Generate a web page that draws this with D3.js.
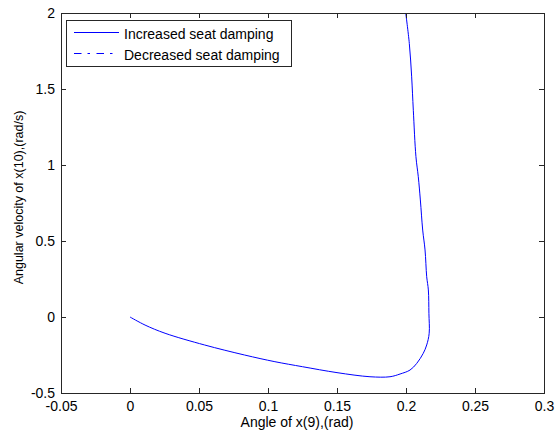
<!DOCTYPE html>
<html>
<head>
<meta charset="utf-8">
<script src="https://cdn.jsdelivr.net/npm/d3@7"></script>
<style>
  html, body { margin: 0; padding: 0; background: #fff; }
  svg text { font-family: "Liberation Sans", Arial, sans-serif; fill: #000; }
</style>
</head>
<body>
<svg id="chart" width="555" height="436"></svg>
<script>
// ---- data -----------------------------------------------------------------
var angleIncreased = [0, 0.0109, 0.0254, 0.054, 0.083, 0.105, 0.125, 0.150, 0.1739, 0.1884,
  0.1957, 0.2029, 0.2078, 0.2125, 0.215, 0.2168, 0.2166, 0.2162, 0.215, 0.2138, 0.2121, 0.2104,
  0.2089, 0.2072, 0.2053, 0.2041, 0.2024, 0.1998];
var velocityIncreased = [0, -0.053, -0.107, -0.184, -0.25, -0.294, -0.327, -0.366, -0.393, -0.393,
  -0.375, -0.349, -0.305, -0.239, -0.184, -0.107, 0.024, 0.178, 0.265, 0.441, 0.572, 0.77,
  0.923, 1.055, 1.36, 1.58, 1.80, 2.0];
var legendLabels = ['Increased seat damping', 'Decreased seat damping'];
var legendDash = [null, '7.5 6 2.5 6.5'];
var xTicks = [-0.05, 0, 0.05, 0.1, 0.15, 0.2, 0.25, 0.3];
var yTicks = [-0.5, 0, 0.5, 1, 1.5, 2];

(function () {
  'use strict';
  var svg = d3.select('#chart');
  var box = { left: 61, top: 13, right: 544, bottom: 393 };
  var x = d3.scaleLinear().domain([-0.05, 0.3]).range([box.left, box.right]);
  var y = d3.scaleLinear().domain([-0.5, 2]).range([box.bottom, box.top]);
  var axisColor = '#262626';
  var tickLen = 5;

  svg.append('rect').attr('width', 555).attr('height', 436).attr('fill', '#fff');

  // clip for the curve
  svg.append('clipPath').attr('id', 'clip').append('rect')
    .attr('x', box.left).attr('y', box.top)
    .attr('width', box.right - box.left).attr('height', box.bottom - box.top);

  var pts = angleIncreased.map(function (a, i) { return [a, velocityIncreased[i]]; });
  var line = d3.line()
    .x(function (d) { return x(d[0]); })
    .y(function (d) { return y(d[1]); })
    .curve(d3.curveCatmullRom.alpha(0.5));
  svg.append('path').attr('clip-path', 'url(#clip)')
    .attr('d', line(pts)).attr('fill', 'none')
    .attr('stroke', '#0000ff').attr('stroke-width', 1);

  // axes with inward ticks on all four sides (MATLAB box)
  function fmt(v) { return String(v); }
  var ax = svg.append('g').attr('shape-rendering', 'crispEdges');
  ax.append('g').attr('transform', 'translate(0,' + box.bottom + ')')
    .call(d3.axisBottom(x).tickValues(xTicks).tickSizeInner(-tickLen).tickSizeOuter(0).tickPadding(8).tickFormat(fmt));
  ax.append('g').attr('transform', 'translate(0,' + box.top + ')')
    .call(d3.axisTop(x).tickValues(xTicks).tickSizeInner(-tickLen).tickSizeOuter(0).tickFormat(''));
  ax.append('g').attr('transform', 'translate(' + box.left + ',0)')
    .call(d3.axisLeft(y).tickValues(yTicks).tickSizeInner(-tickLen).tickSizeOuter(0).tickPadding(6).tickFormat(fmt));
  ax.append('g').attr('transform', 'translate(' + box.right + ',0)')
    .call(d3.axisRight(y).tickValues(yTicks).tickSizeInner(-tickLen).tickSizeOuter(0).tickFormat(''));
  ax.selectAll('.domain').attr('stroke', axisColor);
  ax.selectAll('.tick line').attr('stroke', axisColor);
  ax.selectAll('.tick text').attr('font-size', 14).attr('font-family', '"Liberation Sans", Arial, sans-serif').attr('fill', '#000');

  // axis labels
  svg.append('text').attr('x', 297).attr('y', 427)
    .attr('text-anchor', 'middle').attr('font-size', 14).text('Angle of x(9),(rad)');
  svg.append('text').attr('transform', 'translate(22.5,197.5) rotate(-90)')
    .attr('text-anchor', 'middle').attr('font-size', 12.5).text('Angular velocity of x(10),(rad/s)');

  // legend
  var lg = svg.append('g');
  lg.append('rect').attr('x', 66.5).attr('y', 20.5).attr('width', 225).attr('height', 46)
    .attr('fill', '#fff').attr('stroke', axisColor).attr('stroke-width', 1);
  legendLabels.forEach(function (lab, i) {
    var yy = 32.5 + i * 21;
    lg.append('line').attr('x1', 74).attr('x2', 119).attr('y1', yy).attr('y2', yy)
      .attr('stroke', '#0000ff').attr('stroke-width', 1)
      .attr('stroke-dasharray', legendDash[i]);
    lg.append('text').attr('x', 124).attr('y', yy + 6.5).attr('font-size', 14).text(lab);
  });
})();
</script>
</body>
</html>
